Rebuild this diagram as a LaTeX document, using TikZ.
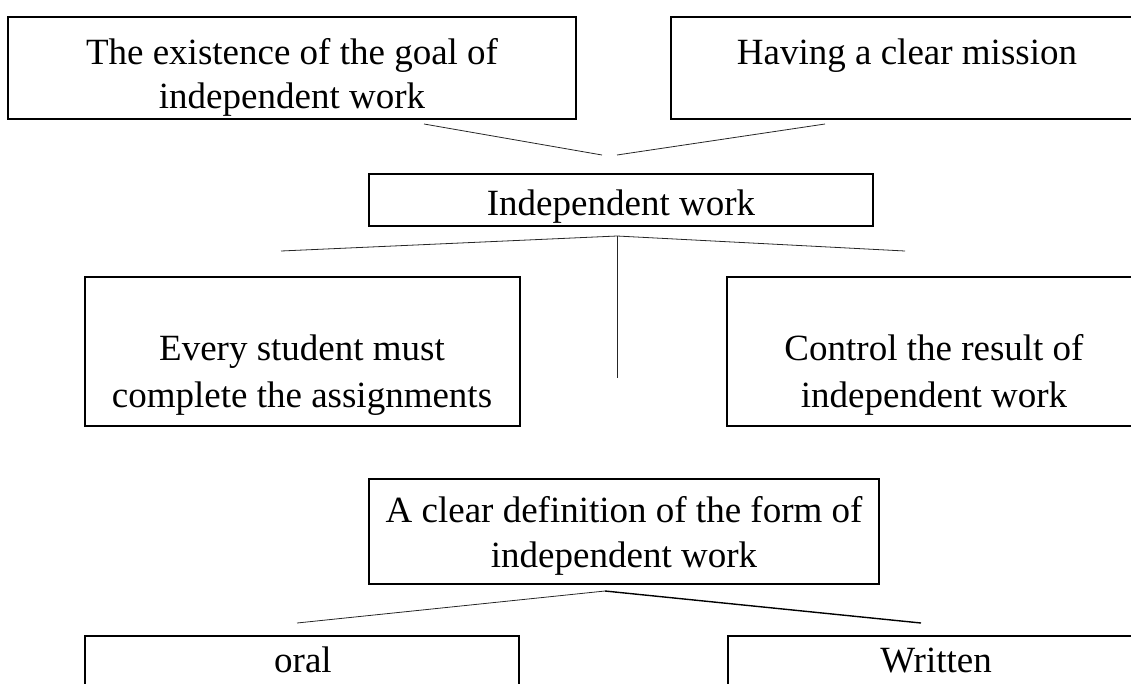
\documentclass[tikz,border=0pt]{standalone}
\usepackage{fontspec}
\setmainfont{Liberation Serif}
\begin{document}
\begin{tikzpicture}[x=1pt,y=-1pt,
  box/.style={draw=black,line width=1.6pt,rectangle,inner sep=0pt},
  txt/.style={anchor=base,inner sep=0pt,font=\fontsize{37}{45}\selectfont},
  link/.style={draw=black!85,line width=0.8pt},
  linkbold/.style={draw=black,line width=1.4pt}]
\useasboundingbox (0,0) rectangle (1131,683);

% boxes (width, height, centre)
\node[box,minimum width=568pt,minimum height=102pt] (goal) at (292,68) {};
\node[box,minimum width=472pt,minimum height=102pt] (mission) at (907,68) {};
\node[box,minimum width=504pt,minimum height=52pt] (iw) at (621,200) {};
\node[box,minimum width=435pt,minimum height=149pt] (every) at (302.5,351.5) {};
\node[box,minimum width=414pt,minimum height=149pt] (control) at (934,351.5) {};
\node[box,minimum width=510pt,minimum height=105pt] (def) at (624,531.5) {};
\node[box,minimum width=434pt,minimum height=90pt] (oral) at (302,681) {};
\node[box,minimum width=416pt,minimum height=90pt] (written) at (936,681) {};

% texts
\node[txt] (goalA) at (292,64) {The existence of the goal of};
\node[txt] (goalB) at (292,108) {independent work};
\node[txt] (missionA) at (907,64) {Having a clear mission};
\node[txt] (iwA) at (621,215) {Independent work};
\node[txt] (everyA) at (302,360) {Every student must};
\node[txt] (everyB) at (302,407) {complete the assignments};
\node[txt] (controlA) at (934,360) {Control the result of};
\node[txt] (controlB) at (934,407) {independent work};
\node[txt] (defA) at (624,522) {A clear definition of the form of};
\node[txt] (defB) at (624,567) {independent work};
\node[txt] (oralA) at (303,672) {oral};
\node[txt] (writtenA) at (936,672) {Written};

% connector end points
\coordinate (g1) at (424,124);
\coordinate (g2) at (602,155);
\coordinate (m1) at (825,124);
\coordinate (m2) at (617,155);
\coordinate (top) at (617,236);
\coordinate (tl) at (281,251);
\coordinate (tr) at (905,251);
\coordinate (tm) at (617,378);
\coordinate (apex) at (605,591);
\coordinate (bl) at (297,623);
\coordinate (br) at (921,623);

\draw[link] (g1) -- (g2);
\draw[link] (m1) -- (m2);
\draw[link] (tl) -- (top) -- (tr);
\draw[link] (top) -- (tm);
\draw[link] (bl) -- (apex);
\draw[linkbold] (apex) -- (br);
\end{tikzpicture}
\end{document}
